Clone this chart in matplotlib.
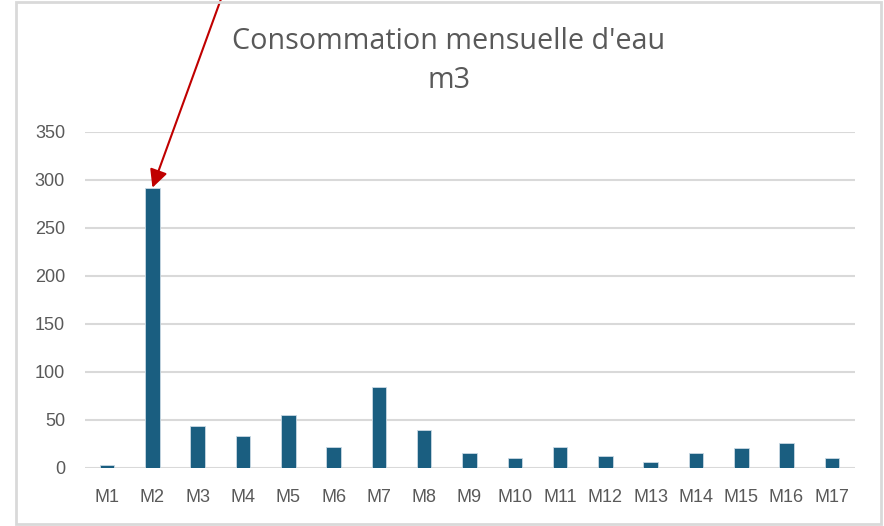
import matplotlib
matplotlib.use("Agg")
import matplotlib.pyplot as plt
from matplotlib.patches import Rectangle

# monthly water consumption (m3)
months = ["M1", "M2", "M3", "M4", "M5", "M6", "M7", "M8", "M9",
          "M10", "M11", "M12", "M13", "M14", "M15", "M16", "M17"]
consumption = [3, 292, 44, 33, 55, 22, 84, 40, 16,
               10, 22, 12, 6, 16, 21, 26, 10]
y_ticks = [0, 50, 100, 150, 200, 250, 300, 350]

W, H = 884, 526
fig = plt.figure(figsize=(W / 100, H / 100), dpi=100)
ax = fig.add_axes([84.5 / W, 1 - 468 / H, (854.5 - 84.5) / W, (468 - 132) / H])

x = range(len(months))
ax.bar(x, consumption, width=0.32, color="#1A5E80", edgecolor="#C9D9E3",
       linewidth=0.6, zorder=3)

ax.set_xlim(-0.5, len(months) - 0.5)
ax.set_ylim(0, 350)
ax.set_yticks(y_ticks)
ax.set_xticks(list(x))
ax.set_xticklabels(months)
ax.grid(axis="y", color="#D9D9D9", linewidth=1.5, zorder=0)
for s in ax.spines.values():
    s.set_visible(False)
for lbl in ax.get_xticklabels() + ax.get_yticklabels():
    lbl.set_family("Liberation Sans")
ax.tick_params(length=0, labelsize=13, labelcolor="#595959")
ax.tick_params(axis="x", pad=15)
ax.tick_params(axis="y", pad=14)

fig.text(449 / W, 1 - 41 / H, "Consommation mensuelle d'eau", ha="center",
         va="center", fontsize=20.7, color="#595959", family="Open Sans")
fig.text(449 / W, 1 - 81 / H, "m3", ha="center", va="center",
         fontsize=20.7, color="#595959", family="Open Sans")

# chart border
fig.patches.append(Rectangle((16 / W, 2 / H), (881 - 16) / W, (524 - 2) / H,
                             transform=fig.transFigure, fill=False,
                             edgecolor="#D9D9D9", linewidth=2))

# red arrow pointing at the peak
ax.annotate("", xy=(1, consumption[1]), xycoords="data",
            xytext=(221 / W, 1.002), textcoords="figure fraction",
            arrowprops=dict(arrowstyle="-|>", color="#C00000", lw=1.5,
                            mutation_scale=27, shrinkA=0, shrinkB=0),
            annotation_clip=False, zorder=5)

fig.savefig("out.png", dpi=100)
